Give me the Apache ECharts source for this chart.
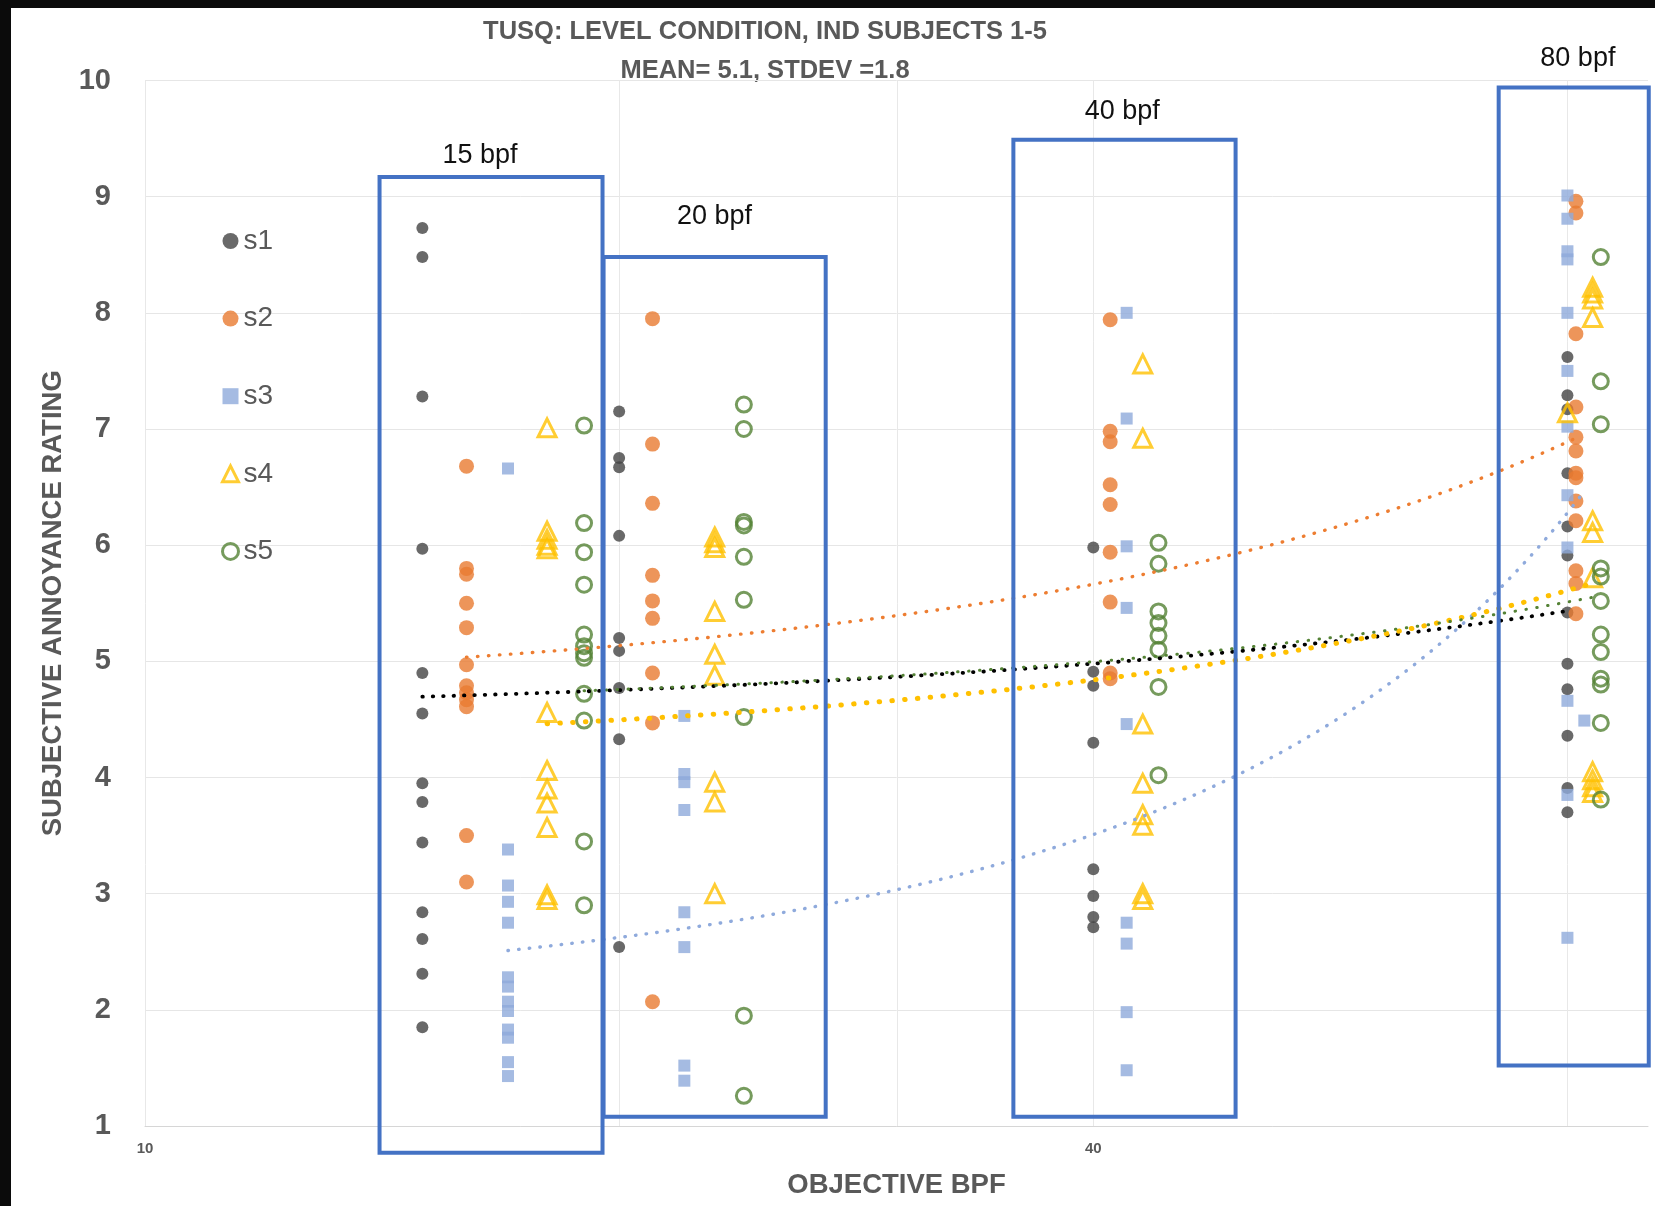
<!DOCTYPE html>
<html><head><meta charset="utf-8">
<script src="https://cdn.jsdelivr.net/npm/echarts@6/dist/echarts.min.js"></script>
<style>
html,body{margin:0;padding:0;background:#fff;}
#wrap{position:relative;width:1655px;height:1206px;overflow:hidden;background:#fff;}
#chart{position:absolute;left:0;top:0;width:1655px;height:1206px;}
.bandTop{position:absolute;left:0;top:0;width:1655px;height:8px;background:#0b0b0b;}
.bandLeft{position:absolute;left:0;top:0;width:11px;height:1206px;background:#0b0b0b;}
</style></head>
<body><div id="wrap"><div id="chart"></div><div class="bandTop"></div><div class="bandLeft"></div></div>
<script>
// ---------------- DATA ----------------
const seriesNames = ['s1', 's2', 's3', 's4', 's5'];

// objective BPF value of each rating group, and the ratings of that group
const s1X = [15, 20, 40, 80];
const s1Ratings = [
  [8.73, 8.48, 7.28, 5.97, 4.90, 4.55, 3.95, 3.79, 3.44, 2.84, 2.61, 2.31, 1.85],
  [7.15, 6.75, 6.67, 6.08, 5.20, 5.09, 4.77, 4.33, 2.54],
  [5.98, 4.91, 4.79, 4.30, 3.21, 2.98, 2.80, 2.71],
  [7.62, 7.29, 7.17, 6.62, 6.16, 5.91, 5.42, 4.98, 4.76, 4.36, 3.91, 3.70]
];
const s2X = [16, 21, 41, 81];
const s2Ratings = [
  [6.68, 5.80, 5.75, 5.50, 5.29, 4.97, 4.79, 4.73, 4.67, 4.61, 3.50, 3.10],
  [7.95, 6.87, 6.36, 5.74, 5.52, 5.37, 4.90, 4.47, 2.07],
  [7.94, 6.98, 6.89, 6.52, 6.35, 5.94, 5.51, 4.90, 4.85],
  [8.96, 8.86, 7.82, 7.19, 6.93, 6.81, 6.62, 6.58, 6.38, 6.21, 5.78, 5.67, 5.41]
];
const s3X = [17, 22, 42, 80, 82];
const s3Ratings = [
  [6.66, 3.38, 3.07, 2.93, 2.75, 2.28, 2.20, 2.07, 1.99, 1.83, 1.76, 1.55, 1.43],
  [4.53, 4.03, 3.96, 3.72, 2.84, 2.54, 1.52, 1.39],
  [8.00, 7.09, 5.99, 5.46, 4.46, 2.75, 2.57, 1.98, 1.48],
  [9.01, 8.81, 8.53, 8.46, 8.00, 7.50, 7.02, 6.43, 5.98, 4.66, 3.85, 2.62],
  [4.49]
];
const s4X = [18, 23, 43, 80, 83];
const s4Ratings = [
  [7.01, 6.12, 6.05, 6.00, 5.97, 4.56, 4.06, 3.90, 3.78, 3.57, 2.99, 2.95],
  [6.07, 6.02, 5.98, 5.43, 5.06, 4.88, 3.96, 3.79, 3.00],
  [7.56, 6.92, 4.46, 3.95, 3.68, 3.59, 3.00, 2.95],
  [7.14],
  [8.22, 8.17, 8.12, 7.96, 6.21, 6.11, 5.72, 4.05, 3.98, 3.92, 3.87]
];
const s5X = [19, 24, 44, 84];
const s5Ratings = [
  [7.03, 6.19, 5.94, 5.66, 5.23, 5.13, 5.07, 5.03, 4.72, 4.49, 3.45, 2.90],
  [7.21, 7.00, 6.20, 6.17, 5.90, 5.53, 4.52, 1.95, 1.26],
  [6.02, 5.84, 5.43, 5.33, 5.22, 5.10, 4.78, 4.02],
  [8.48, 7.41, 7.04, 5.80, 5.73, 5.52, 5.23, 5.08, 4.85, 4.80, 4.47, 3.81]
];

// trendline kind fitted per subject
const trendTypes = ['linear', 'exponential', 'exponential', 'exponential', 'exponential'];

// axis ticks / labels
const yTicks = [1, 2, 3, 4, 5, 6, 7, 8, 9, 10];
const xGridValues = [10, 20, 30, 40, 80];
const xTickLabels = [10, 40];

// annotation boxes (in data coordinates)
const boxLabels = ['15 bpf', '20 bpf', '40 bpf', '80 bpf'];
const boxLeft = [14.09, 19.55, 35.59, 72.35];
const boxRight = [19.52, 27.05, 49.25, 90.1];
const boxTop = [9.17, 8.48, 9.49, 9.94];
const boxBottom = [0.77, 1.08, 1.08, 1.52];
const boxLabelX = [16.32, 22.99, 41.73, 81.23];
const boxLabelY = [9.35, 8.83, 9.73, 10.19];

const titleLines = ['TUSQ: LEVEL CONDITION, IND SUBJECTS 1-5', 'MEAN= 5.1, STDEV =1.8'];

// ---------------- BUILD ----------------
function toPoints(xs, groups) {
  const pts = [];
  xs.forEach((x, i) => groups[i].forEach(v => pts.push([x, v])));
  return pts;
}
const allPoints = [
  toPoints(s1X, s1Ratings), toPoints(s2X, s2Ratings), toPoints(s3X, s3Ratings),
  toPoints(s4X, s4Ratings), toPoints(s5X, s5Ratings)
];

// least-squares trendline, as a spreadsheet trendline does
function trend(pts, kind) {
  const n = pts.length;
  const expo = kind === 'exponential';
  let sx = 0, sxx = 0, sl = 0, sxl = 0, mn = Infinity, mx = -Infinity;
  pts.forEach(([x, y]) => {
    const l = expo ? Math.log(y) : y;
    sx += x; sxx += x * x; sl += l; sxl += x * l;
    mn = Math.min(mn, x); mx = Math.max(mx, x);
  });
  const b = (n * sxl - sx * sl) / (n * sxx - sx * sx);
  const a = (sl - b * sx) / n;
  const out = [];
  const steps = 120;
  for (let i = 0; i <= steps; i++) {
    const x = mn * Math.pow(mx / mn, i / steps);
    out.push([x, expo ? Math.exp(a + b * x) : a + b * x]);
  }
  return out;
}

const markerStyles = [
  { symbol: 'circle', size: 12, itemStyle: { color: '#444444' } },
  { symbol: 'circle', size: 15, itemStyle: { color: '#E97B31' } },
  { symbol: 'rect', size: 12, itemStyle: { color: '#8EAADB' } },
  { symbol: 'triangle', size: 18, itemStyle: { color: 'rgba(255,255,255,0)', borderColor: '#FFC000', borderWidth: 3 } },
  { symbol: 'circle', size: 15, itemStyle: { color: 'rgba(255,255,255,0)', borderColor: '#548235', borderWidth: 3 } }
];
const trendStyles = [
  { color: '#000000', width: 3.8, dash: [0.5, 9.9] },
  { color: '#ED7D31', width: 3.4, dash: [0.5, 10.5] },
  { color: '#8FAADC', width: 3.4, dash: [0.5, 10.2] },
  { color: '#FFC000', width: 5.0, dash: [0.5, 12.3] },
  { color: '#548235', width: 3.0, dash: [0.5, 10.5] }
];

const FONT = '"Liberation Sans", Arial, sans-serif';
const GREY = '#595959';

const series = [];

// vertical gridlines
series.push({
  type: 'custom', name: 'vgrid', silent: true, z: 1, clip: false,
  data: xGridValues.map(v => [v, 1]),
  encode: { x: 0, y: 1 },
  renderItem: function (params, api) {
    const p1 = api.coord([api.value(0), 10]);
    const p2 = api.coord([api.value(0), 1]);
    const x = Math.round(p1[0]) + 0.5;
    return { type: 'line', shape: { x1: x, y1: p1[1], x2: x, y2: p2[1] },
      style: { stroke: '#E8E8E8', lineWidth: 1 } };
  }
});
// x tick labels
series.push({
  type: 'custom', name: 'xlabels', silent: true, z: 1, clip: false,
  data: xTickLabels.map(v => [v, 1]),
  encode: { x: 0, y: 1 },
  renderItem: function (params, api) {
    const p = api.coord([api.value(0), api.value(1)]);
    return { type: 'text', x: p[0], y: p[1] + 23,
      style: { text: String(api.value(0)), font: 'bold 15px ' + FONT, fill: GREY, align: 'center', verticalAlign: 'middle' } };
  }
});

seriesNames.forEach((name, i) => {
  const m = markerStyles[i];
  series.push({
    type: 'scatter', name: name, data: allPoints[i], symbol: m.symbol, symbolSize: m.size,
    itemStyle: m.itemStyle, z: 3, clip: false, silent: true
  });
});
seriesNames.forEach((name, i) => {
  const t = trendStyles[i];
  series.push({
    type: 'line', name: 'trend ' + name, data: trend(allPoints[i], trendTypes[i]), showSymbol: false, symbol: 'none',
    smooth: false, silent: true, z: 4,
    lineStyle: { color: t.color, width: t.width, type: t.dash, cap: 'round' }
  });
});
// annotation boxes
series.push({
  type: 'custom', name: 'boxes', silent: true, z: 6, clip: false,
  data: boxLabels.map((_, i) => [boxLeft[i], boxTop[i], boxRight[i], boxBottom[i], boxLabelX[i], boxLabelY[i]]),
  encode: { x: [0, 2], y: [1, 3] },
  renderItem: function (params, api) {
    const i = params.dataIndex;
    const a = api.coord([api.value(0), api.value(1)]);
    const b = api.coord([api.value(2), api.value(3)]);
    const l = api.coord([api.value(4), api.value(5)]);
    return { type: 'group', children: [
      { type: 'rect', shape: { x: a[0], y: a[1], width: b[0] - a[0], height: b[1] - a[1] },
        style: { fill: 'none', stroke: '#4472C4', lineWidth: 4 } },
      { type: 'text', x: l[0], y: l[1],
        style: { text: boxLabels[i], font: '27px ' + FONT, fill: '#111111', align: 'center', verticalAlign: 'middle' } }
    ] };
  }
});

const chart = echarts.init(document.getElementById('chart'), null, { renderer: 'canvas' });
chart.setOption({
  animation: false,
  backgroundColor: '#ffffff',
  grid: { left: 145, right: 7, top: 80.5, bottom: 80 },
  graphic: [
    { type: 'text', x: 765, y: 32, style: { text: titleLines[0], font: 'bold 25.5px ' + FONT, fill: GREY, align: 'center', verticalAlign: 'middle' } },
    { type: 'text', x: 765, y: 71, style: { text: titleLines[1], font: 'bold 25.5px ' + FONT, fill: GREY, align: 'center', verticalAlign: 'middle' } }
  ],
  legend: {
    orient: 'vertical', left: 216, top: 221, itemWidth: 16, itemHeight: 16, itemGap: 47.6,
    data: seriesNames.map((n, i) => i >= 3 ? { name: n, itemStyle: { borderWidth: 3 } } : { name: n }),
    textStyle: { fontSize: 28, color: GREY, fontFamily: FONT, lineHeight: 30 },
    selectedMode: false
  },
  xAxis: {
    type: 'log', logBase: 10, min: 10, max: 90,
    axisLine: { show: true, lineStyle: { color: '#D6D6D6', width: 1 } },
    axisTick: { show: false }, axisLabel: { show: false }, splitLine: { show: false },
    name: 'OBJECTIVE BPF', nameLocation: 'middle', nameGap: 45,
    nameTextStyle: { fontSize: 27.5, fontWeight: 'bold', color: GREY, fontFamily: FONT }
  },
  yAxis: {
    type: 'value', min: yTicks[0], max: yTicks[yTicks.length - 1], interval: 1,
    axisLine: { show: false }, axisTick: { show: false },
    axisLabel: { fontSize: 29, fontWeight: 'bold', color: GREY, fontFamily: FONT, margin: 34 },
    splitLine: { lineStyle: { color: '#E6E6E6', width: 1 } },
    name: 'SUBJECTIVE ANNOYANCE RATING', nameLocation: 'middle', nameGap: 77, nameRotate: 90,
    nameTextStyle: { fontSize: 27.5, fontWeight: 'bold', color: GREY, fontFamily: FONT }
  },
  series: series
});
</script>
</body></html>
